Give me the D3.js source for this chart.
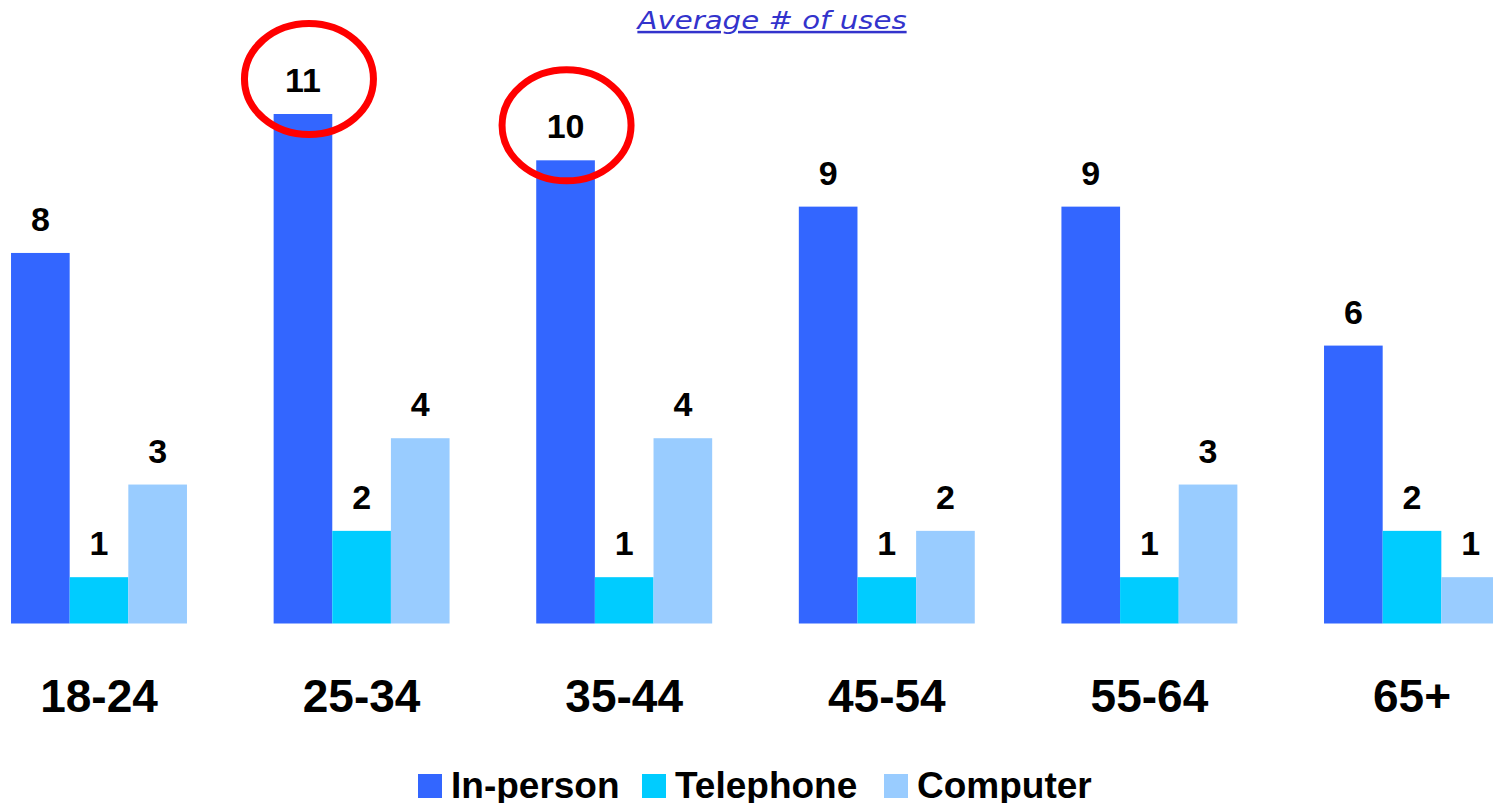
<!DOCTYPE html>
<html>
<head>
<meta charset="utf-8">
<script src="https://cdn.jsdelivr.net/npm/d3@7"></script>
<style>
  html, body { margin: 0; padding: 0; background: #fff; }
  svg { display: block; }
</style>
</head>
<body>
<div id="chart"></div>
<script>
// data
const categories = ['18-24', '25-34', '35-44', '45-54', '55-64', '65+'];
const series = ['In-person', 'Telephone', 'Computer'];
const colors = ['#3366ff', '#00ccff', '#99ccff'];
const inPerson = [8, 11, 10, 9, 9, 6];
const telephone = [1, 2, 1, 1, 1, 2];
const computer = [3, 4, 4, 2, 3, 1];
const circled = ['25-34', '35-44'];   // in-person values ringed in red
const title = 'Average # of uses';

const width = 1493, height = 803;
const baseline = 623.5;

const rows = categories.map((c, i) => ({
    cat: c,
    vals: [inPerson[i], telephone[i], computer[i]].map((v, j) => ({series: series[j], v}))
}));

const svg = d3.select('#chart').append('svg')
    .attr('width', width)
    .attr('height', height);

const x0 = d3.scaleBand()
    .domain(categories)
    .range([-32.3, 1543.3])
    .paddingInner(0.33)
    .paddingOuter(0.165);

const x1 = d3.scaleBand()
    .domain(series)
    .range([0, x0.bandwidth()]);

const y = d3.scaleLinear()
    .domain([0, 11])
    .range([baseline, 114]);

const color = d3.scaleOrdinal().domain(series).range(colors);

// title (source font is a bit wider than DejaVu, so stretch it)
svg.append('text')
    .attr('transform', 'translate(772,29) scale(1.17,1)')
    .attr('text-anchor', 'middle')
    .style('font-family', 'DejaVu Sans, Verdana, sans-serif')
    .style('font-style', 'italic')
    .style('font-size', '25px')
    .style('text-decoration', 'underline')
    .style('fill', '#3333cc')
    .text(title);

const groups = svg.append('g').selectAll('g')
    .data(rows)
    .enter().append('g')
    .attr('transform', d => `translate(${x0(d.cat)},0)`);

groups.selectAll('rect')
    .data(d => d.vals)
    .enter().append('rect')
    .attr('x', d => x1(d.series))
    .attr('width', x1.bandwidth())
    .attr('y', d => y(d.v))
    .attr('height', d => baseline - y(d.v))
    .attr('fill', d => color(d.series));

groups.selectAll('text.val')
    .data(d => d.vals)
    .enter().append('text')
    .attr('class', 'val')
    .attr('x', d => x1(d.series) + x1.bandwidth() / 2)
    .attr('y', d => y(d.v) - 22)
    .attr('text-anchor', 'middle')
    .style('font-family', 'Liberation Sans, Arial, sans-serif')
    .style('font-weight', 'bold')
    .style('font-size', '34px')
    .text(d => d.v);

// red rings, drawn by hand in the original so not quite centred
const ringDx = [6, 1];
svg.append('g').selectAll('ellipse')
    .data(rows.filter(d => circled.includes(d.cat)))
    .enter().append('ellipse')
    .attr('cx', (d, i) => x0(d.cat) + x1(series[0]) + x1.bandwidth() / 2 + ringDx[i])
    .attr('cy', d => y(d.vals[0].v) - 35)
    .attr('rx', 64.5)
    .attr('ry', 55.5)
    .attr('fill', 'none')
    .attr('stroke', '#ff0000')
    .attr('stroke-width', 7);

// category axis labels
const xAxis = d3.axisBottom(x0).tickSize(0).tickPadding(0);
const ax = svg.append('g')
    .attr('transform', `translate(0,${baseline})`)
    .call(xAxis);
ax.select('.domain').remove();
ax.selectAll('text')
    .attr('dy', null)
    .attr('y', 88)
    .style('font-family', 'Liberation Sans, Arial, sans-serif')
    .style('font-weight', 'bold')
    .style('font-size', '46px')
    .style('fill', '#000');

// legend
const legendX = [418, 642, 884];
const legend = svg.append('g').selectAll('g')
    .data(series)
    .enter().append('g')
    .attr('transform', (d, i) => `translate(${legendX[i]},774)`);
legend.append('rect')
    .attr('width', 24)
    .attr('height', 24)
    .attr('fill', d => color(d));
legend.append('text')
    .attr('x', 33)
    .attr('y', 24)
    .style('font-family', 'Liberation Sans, Arial, sans-serif')
    .style('font-weight', 'bold')
    .style('font-size', '37px')
    .text(d => d);
</script>
</body>
</html>
